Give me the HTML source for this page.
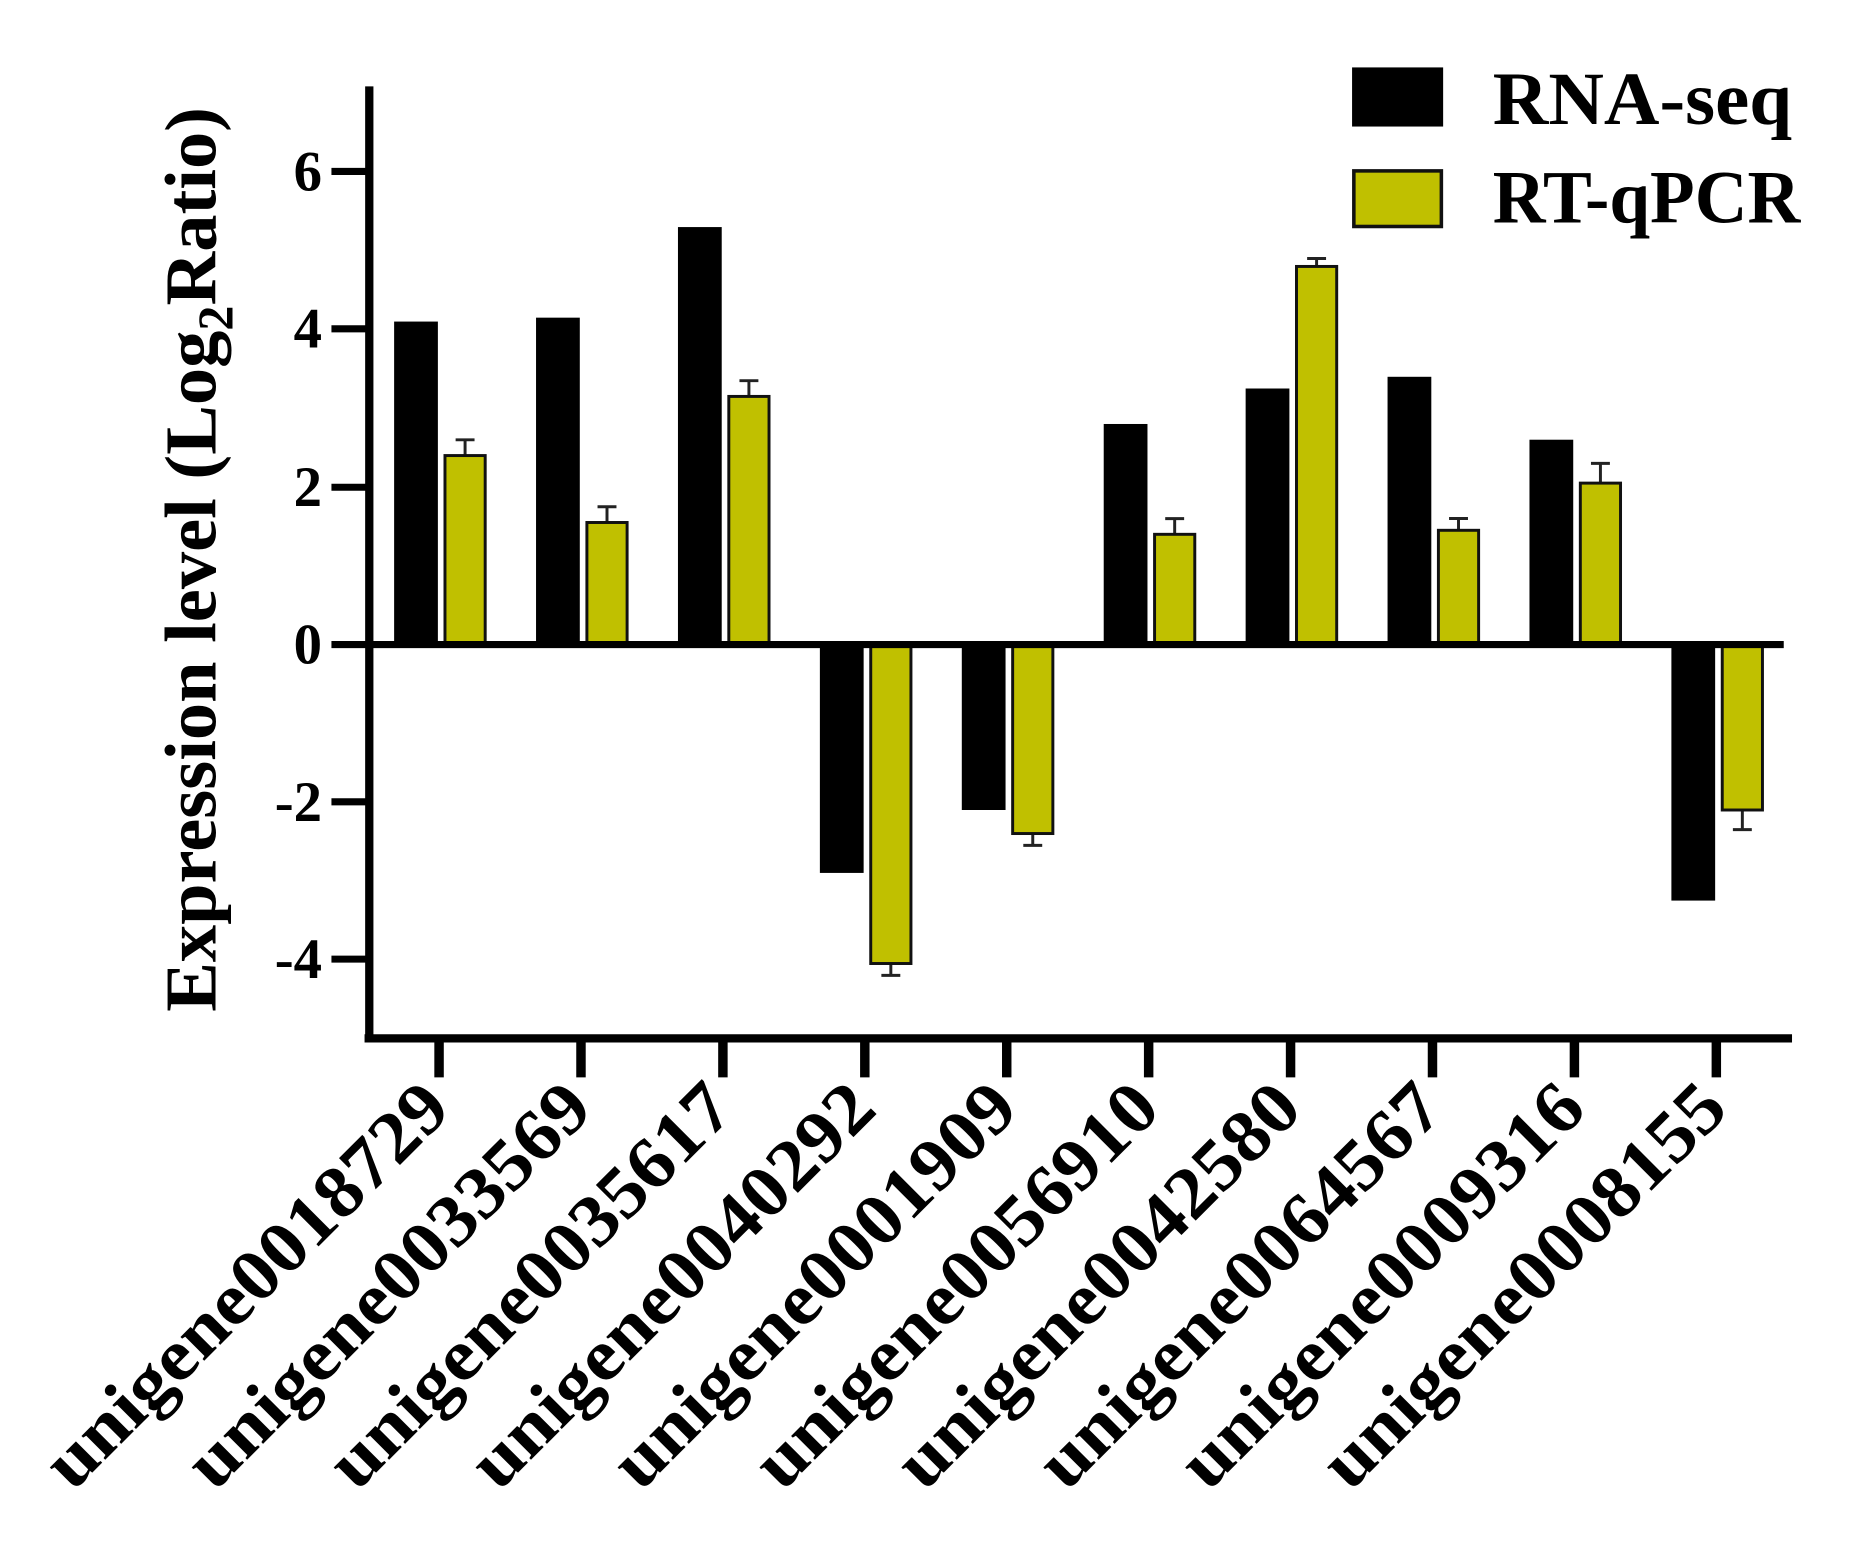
<!DOCTYPE html>
<html><head><style>html,body{margin:0;padding:0;background:#fff}svg{display:block}</style></head>
<body>
<svg width="1855" height="1541" viewBox="0 0 1568 1303" xmlns="http://www.w3.org/2000/svg" font-family="Liberation Serif, serif">
<rect width="1568" height="1303" fill="#fff"/>
<g fill="#000">
<rect x="333" y="271.9" width="37" height="273.1"/>
<rect x="453" y="268.6" width="37" height="276.4"/>
<rect x="573" y="192" width="37" height="353"/>
<rect x="693" y="545" width="37" height="193.1"/>
<rect x="813" y="545" width="37" height="139.9"/>
<rect x="933" y="358.5" width="37" height="186.5"/>
<rect x="1053" y="328.5" width="37" height="216.5"/>
<rect x="1173" y="318.6" width="37" height="226.4"/>
<rect x="1293" y="371.8" width="37" height="173.2"/>
<rect x="1413" y="545" width="37" height="216.5"/>
</g>
<g stroke="#222" stroke-width="2.5" fill="none">
<path d="M393 385V371.9M385 371.9H401"/>
<path d="M513 441.8V428.5M505 428.5H521"/>
<path d="M633 335.2V321.9M625 321.9H641"/>
<path d="M753 814.7V824.7M745 824.7H761"/>
<path d="M873 704.8V714.8M865 714.8H881"/>
<path d="M993 451.8V438.5M985 438.5H1001"/>
<path d="M1113 225.3V218.6M1105 218.6H1121"/>
<path d="M1233 448.4V438.4M1225 438.4H1241"/>
<path d="M1353 408.5V391.8M1345 391.8H1361"/>
<path d="M1473 684.9V701.5M1465 701.5H1481"/>
</g>
<g fill="#c0c000" stroke="#111" stroke-width="2.5">
<rect x="376" y="385.2" width="34" height="159.8"/>
<rect x="496" y="441.8" width="34" height="103.2"/>
<rect x="616" y="335.2" width="34" height="209.8"/>
<rect x="736" y="545" width="34" height="269.7"/>
<rect x="856" y="545" width="34" height="159.8"/>
<rect x="976" y="451.8" width="34" height="93.2"/>
<rect x="1096" y="225.3" width="34" height="319.7"/>
<rect x="1216" y="448.4" width="34" height="96.6"/>
<rect x="1336" y="408.5" width="34" height="136.5"/>
<rect x="1456" y="545" width="34" height="139.9"/>
</g>
<line x1="312" y1="545" x2="1508" y2="545" stroke="#000" stroke-width="6"/>
<line x1="312" y1="73" x2="312" y2="881" stroke="#000" stroke-width="7"/>
<line x1="308" y1="878" x2="1515" y2="878" stroke="#000" stroke-width="7"/>
<g stroke="#000" stroke-width="6">
<line x1="280" x2="312" y1="145" y2="145"/><line x1="280" x2="312" y1="278" y2="278"/>
<line x1="280" x2="312" y1="412" y2="412"/><line x1="280" x2="312" y1="545" y2="545"/>
<line x1="280" x2="312" y1="678" y2="678"/><line x1="280" x2="312" y1="811" y2="811"/>
</g>
<g stroke="#000" stroke-width="8">
<line x1="371" x2="371" y1="878" y2="911"/><line x1="491" x2="491" y1="878" y2="911"/>
<line x1="611" x2="611" y1="878" y2="911"/><line x1="731" x2="731" y1="878" y2="911"/>
<line x1="851" x2="851" y1="878" y2="911"/><line x1="971" x2="971" y1="878" y2="911"/>
<line x1="1091" x2="1091" y1="878" y2="911"/><line x1="1211" x2="1211" y1="878" y2="911"/>
<line x1="1331" x2="1331" y1="878" y2="911"/><line x1="1451" x2="1451" y1="878" y2="911"/>
</g>
<g font-size="48" font-weight="bold" text-anchor="end">
<text x="272" y="161">6</text><text x="272" y="294">4</text><text x="272" y="428">2</text>
<text x="272" y="561">0</text><text x="272" y="694">-2</text><text x="272" y="827">-4</text>
</g>
<g font-size="62" font-weight="bold" text-anchor="end">
<text transform="translate(383,940) rotate(-45)" textLength="455" lengthAdjust="spacingAndGlyphs">unigene0018729</text>
<text transform="translate(503,940) rotate(-45)" textLength="455" lengthAdjust="spacingAndGlyphs">unigene0033569</text>
<text transform="translate(623,940) rotate(-45)" textLength="455" lengthAdjust="spacingAndGlyphs">unigene0035617</text>
<text transform="translate(743,940) rotate(-45)" textLength="455" lengthAdjust="spacingAndGlyphs">unigene0040292</text>
<text transform="translate(863,940) rotate(-45)" textLength="455" lengthAdjust="spacingAndGlyphs">unigene0001909</text>
<text transform="translate(983,940) rotate(-45)" textLength="455" lengthAdjust="spacingAndGlyphs">unigene0056910</text>
<text transform="translate(1103,940) rotate(-45)" textLength="455" lengthAdjust="spacingAndGlyphs">unigene0042580</text>
<text transform="translate(1223,940) rotate(-45)" textLength="455" lengthAdjust="spacingAndGlyphs">unigene0064567</text>
<text transform="translate(1343,940) rotate(-45)" textLength="455" lengthAdjust="spacingAndGlyphs">unigene0009316</text>
<text transform="translate(1463,940) rotate(-45)" textLength="455" lengthAdjust="spacingAndGlyphs">unigene0008155</text>
</g>
<text transform="translate(182,473) rotate(-90)" text-anchor="middle" font-size="62" font-weight="bold" textLength="765" lengthAdjust="spacingAndGlyphs">Expression level (Log<tspan font-size="42" dy="14">2</tspan><tspan dy="-14">Ratio)</tspan></text>
<rect x="1143" y="57" width="77" height="50" fill="#000"/>
<rect x="1144.5" y="144.5" width="74" height="47" fill="#c0c000" stroke="#111" stroke-width="3"/>
<text x="1262" y="105" font-size="64" font-weight="bold" textLength="253" lengthAdjust="spacingAndGlyphs">RNA-seq</text>
<text x="1262" y="188" font-size="64" font-weight="bold" textLength="260" lengthAdjust="spacingAndGlyphs">RT-qPCR</text>
</svg>
</body></html>
